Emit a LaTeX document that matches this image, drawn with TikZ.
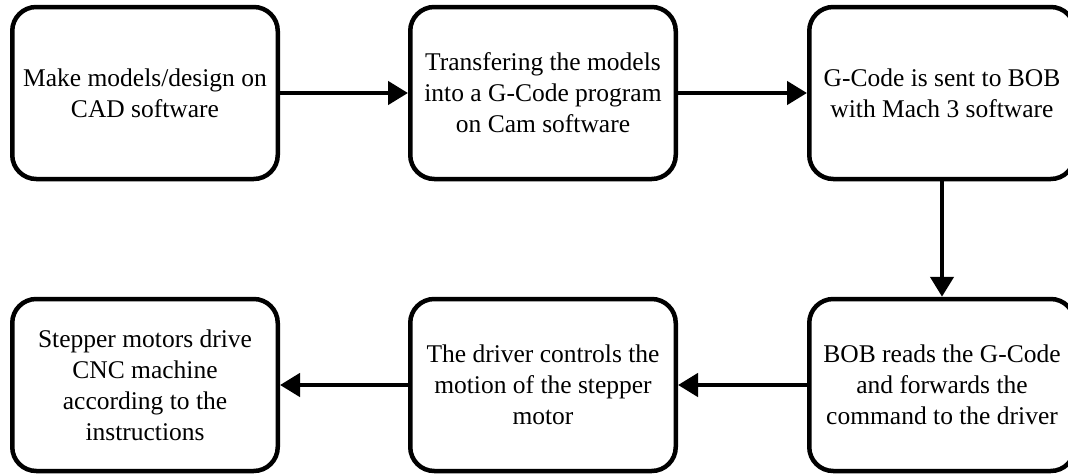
\documentclass[tikz,border=0pt]{standalone}
\usepackage{fontspec}
\setmainfont{Liberation Serif}
\usetikzlibrary{arrows.meta}
\begin{document}
\begin{tikzpicture}[x=1pt,y=-1pt,
  stepbox/.style={draw=black, line width=4.5pt, rounded corners=24pt,
    minimum width=265.5pt, minimum height=172pt, align=center,
    font=\fontsize{25.5pt}{31pt}\selectfont, inner sep=0pt, fill=white},
  flow/.style={line width=4.5pt, -{Triangle[length=20pt,width=23pt]}}]
  \useasboundingbox (0,0) rectangle (1068,474);
  \node[stepbox] (cad)    at (145,93)  {Make models/design on\\CAD software};
  \node[stepbox] (cam)    at (543,93)  {Transfering the models\\into a G-Code program\\on Cam software};
  \node[stepbox] (mach)   at (942,93)  {G-Code is sent to BOB\\with Mach 3 software};
  \node[stepbox] (bob)    at (942,385) {BOB reads the G-Code\\and forwards the\\command to the driver};
  \node[stepbox] (driver) at (543,385) {The driver controls the\\motion of the stepper\\motor};
  \node[stepbox] (motor)  at (145,385) {Stepper motors drive\\CNC machine\\according to the\\instructions};
  \draw[flow] (cad) -- (cam);
  \draw[flow] (cam) -- (mach);
  \draw[flow] (mach) -- (bob);
  \draw[flow] (bob) -- (driver);
  \draw[flow] (driver) -- (motor);
\end{tikzpicture}
\end{document}
